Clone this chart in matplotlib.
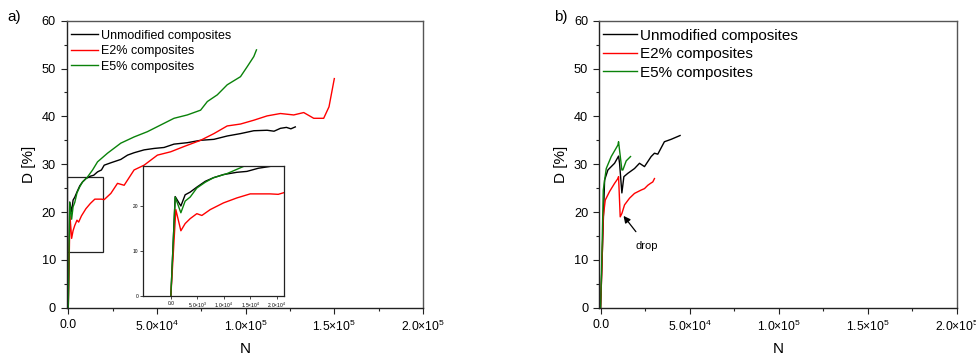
"""
Damage D vs number of cycles N - two panels with inset
"""

import matplotlib.pyplot as plt
from matplotlib.ticker import FixedLocator, MultipleLocator, FuncFormatter
from matplotlib.patches import Rectangle

plt.rcParams['font.family'] = ['Liberation Sans', 'DejaVu Sans']
plt.rcParams['mathtext.fontset'] = 'custom'
plt.rcParams['mathtext.rm'] = 'Liberation Sans'
plt.rcParams['mathtext.it'] = 'Liberation Sans:italic'

BLACK = '#000000'
RED = '#ff0000'
GREEN = '#0a820a'
FRAME = '#555555'

labels = ['Unmodified composites', 'E2% composites', 'E5% composites']

# Panel a) data
a_unmod_n = [0, 820, 1890, 2700, 3650, 4900, 6500, 8050, 9940, 12450, 14340,
             16500, 18700, 20250, 24000, 29600, 33400, 37100, 42750, 48400,
             54000, 59600, 67100, 74600, 82100, 89600, 97100, 104600, 112100,
             116000, 119600, 123000, 125500, 128000]
a_unmod_d = [0, 22.1, 20.0, 22.5, 23.1, 24.2, 25.5, 26.3, 27.0, 27.5, 27.7,
             28.4, 28.8, 29.8, 30.3, 31.0, 31.9, 32.4, 33.0, 33.3,
             33.5, 34.2, 34.5, 35.0, 35.2, 35.9, 36.4, 37.0, 37.1,
             36.9, 37.5, 37.7, 37.4, 37.8]

a_e2_n = [0, 940, 1890, 2700, 3650, 4900, 5850, 7420, 9940, 12450, 14970,
          18700, 20250, 24000, 27750, 31500, 37100, 42750, 50250, 57750,
          65250, 74600, 82100, 89600, 97100, 104600, 112100, 119600, 127100,
          132750, 138400, 144000, 147000, 150000]
a_e2_d = [0, 19.2, 14.5, 16.1, 17.2, 18.3, 17.9, 19.2, 20.7, 21.8, 22.7,
          22.7, 22.6, 23.9, 26.0, 25.6, 28.8, 29.8, 31.9, 32.6,
          33.7, 35.0, 36.4, 38.0, 38.4, 39.2, 40.1, 40.6, 40.3,
          40.8, 39.6, 39.6, 42.0, 47.9]

a_e5_n = [0, 820, 1890, 2700, 3650, 4900, 6500, 8050, 10570, 13700, 16500,
          22100, 29600, 37100, 44600, 52100, 59600, 67100, 74600, 78400,
          84000, 89600, 97100, 100900, 104600, 106100]
a_e5_d = [0, 22.0, 18.5, 21.1, 22.0, 24.0, 25.3, 26.3, 27.2, 28.8, 30.5,
          32.3, 34.4, 35.7, 36.8, 38.2, 39.6, 40.3, 41.3, 43.1,
          44.5, 46.6, 48.3, 50.4, 52.5, 53.9]

# Panel b) data
b_unmod_n = [0, 1300, 2240, 4100, 7840, 10080, 10640, 11940, 13060, 15300,
             19030, 21830, 24630, 28360, 30230, 32100, 35800, 39560, 44600]
b_unmod_d = [0, 15.5, 26.7, 28.8, 30.2, 31.7, 30.2, 24.0, 27.4, 28.1,
             29.1, 30.2, 29.5, 31.6, 32.3, 32.1, 34.7, 35.2, 36.0]

b_e2_n = [0, 750, 1500, 2610, 5040, 7840, 9700, 10080, 11000, 11940, 13430,
          16240, 19030, 22760, 24630, 26500, 28000, 29300, 30230]
b_e2_d = [0, 8.6, 19.0, 22.5, 24.3, 26.0, 27.0, 27.4, 19.0, 19.7, 21.5,
          22.9, 23.9, 24.6, 24.9, 25.6, 26.0, 26.3, 27.0]

b_e5_n = [0, 750, 1500, 3170, 5970, 9700, 10080, 11940, 12500, 14370, 16800]
b_e5_d = [0, 11.4, 24.6, 29.1, 31.6, 34.0, 34.7, 28.8, 28.8, 30.7, 31.6]


def sci_label(v, pos):
    if v == 0:
        return '0.0'
    exp = len(str(int(abs(v)))) - 1
    mant = v / 10 ** exp
    return r'%.1f$\times$10$^{%d}$' % (mant, exp)


def style_axes(ax):
    for s in ax.spines.values():
        s.set_color(FRAME)
        s.set_linewidth(1.0)
    ax.spines['left'].set_color('#222222')
    ax.spines['bottom'].set_color('#222222')
    ax.set_xlim(-750, 200000)
    ax.set_ylim(0, 60)
    ax.xaxis.set_major_locator(FixedLocator([0, 50000, 100000, 150000, 200000]))
    ax.xaxis.set_minor_locator(MultipleLocator(25000))
    ax.yaxis.set_major_locator(MultipleLocator(10))
    ax.yaxis.set_minor_locator(MultipleLocator(5))
    ax.xaxis.set_major_formatter(FuncFormatter(sci_label))
    ax.tick_params(which='both', direction='out', top=False, right=False,
                   color='#222222')
    ax.tick_params(axis='x', labelsize=8.7)
    ax.tick_params(axis='y', labelsize=9.2)
    ax.tick_params(which='major', length=4.5, width=0.8)
    ax.tick_params(which='minor', length=2.5, width=0.8)
    ax.set_xlabel('N', fontsize=11, labelpad=6)
    ax.set_ylabel('D [%]', fontsize=11, labelpad=4)


fig = plt.figure(figsize=(9.76, 3.57), dpi=100, facecolor='white')

# ---- panel a ----
ax1 = fig.add_axes([0.0686, 0.138, 0.3648, 0.804])
style_axes(ax1)
ax1.plot(a_unmod_n, a_unmod_d, color=BLACK, lw=1.0, label=labels[0])
ax1.plot(a_e2_n, a_e2_d, color=RED, lw=1.0, label=labels[1])
ax1.plot(a_e5_n, a_e5_d, color=GREEN, lw=1.0, label=labels[2])
ax1.legend(loc='upper left', bbox_to_anchor=(0.0, 0.982), frameon=False,
           fontsize=9, handlelength=2.2, handletextpad=0.22,
           labelspacing=0.28, borderpad=0.1, borderaxespad=0.2)
ax1.add_patch(Rectangle((-700, 11.7), 20100, 15.6, fill=False,
                        edgecolor='#222222', lw=0.9))
fig.text(0.008, 0.94, 'a)', fontsize=11)

# inset
axi = fig.add_axes([0.1468, 0.171, 0.1445, 0.364])
axi.plot(a_unmod_n, a_unmod_d, color=BLACK, lw=1.0)
axi.plot(a_e2_n, a_e2_d, color=RED, lw=1.0)
axi.plot(a_e5_n, a_e5_d, color=GREEN, lw=1.0)
axi.set_xlim(-5200, 21400)
axi.set_ylim(0, 28.9)
axi.xaxis.set_major_locator(FixedLocator([0, 5000, 10000, 15000, 20000]))
axi.yaxis.set_major_locator(FixedLocator([0, 10, 20]))
axi.xaxis.set_major_formatter(FuncFormatter(sci_label))
axi.tick_params(labelsize=3.5, length=2, width=0.5, pad=1.5, direction='out')
for s in axi.spines.values():
    s.set_color('#222222')
    s.set_linewidth(0.9)

# ---- panel b ----
ax2 = fig.add_axes([0.614, 0.138, 0.3665, 0.804])
style_axes(ax2)
ax2.plot(b_unmod_n, b_unmod_d, color=BLACK, lw=1.0, label=labels[0])
ax2.plot(b_e2_n, b_e2_d, color=RED, lw=1.0, label=labels[1])
ax2.plot(b_e5_n, b_e5_d, color=GREEN, lw=1.0, label=labels[2])
ax2.legend(loc='upper left', bbox_to_anchor=(0.0, 0.986), frameon=False,
           fontsize=11, handlelength=2.2, handletextpad=0.22,
           labelspacing=0.3, borderpad=0.1, borderaxespad=0.15)
ax2.annotate('drop', xy=(12875, 19.2), xytext=(26100, 12.9),
             fontsize=8, ha='center', va='center',
             arrowprops=dict(arrowstyle='-|>', color=BLACK, lw=0.9,
                             mutation_scale=10, shrinkA=6, shrinkB=0))
fig.text(0.568, 0.94, 'b)', fontsize=11)

plt.savefig('out.png', dpi=100, facecolor='white')
plt.close()
